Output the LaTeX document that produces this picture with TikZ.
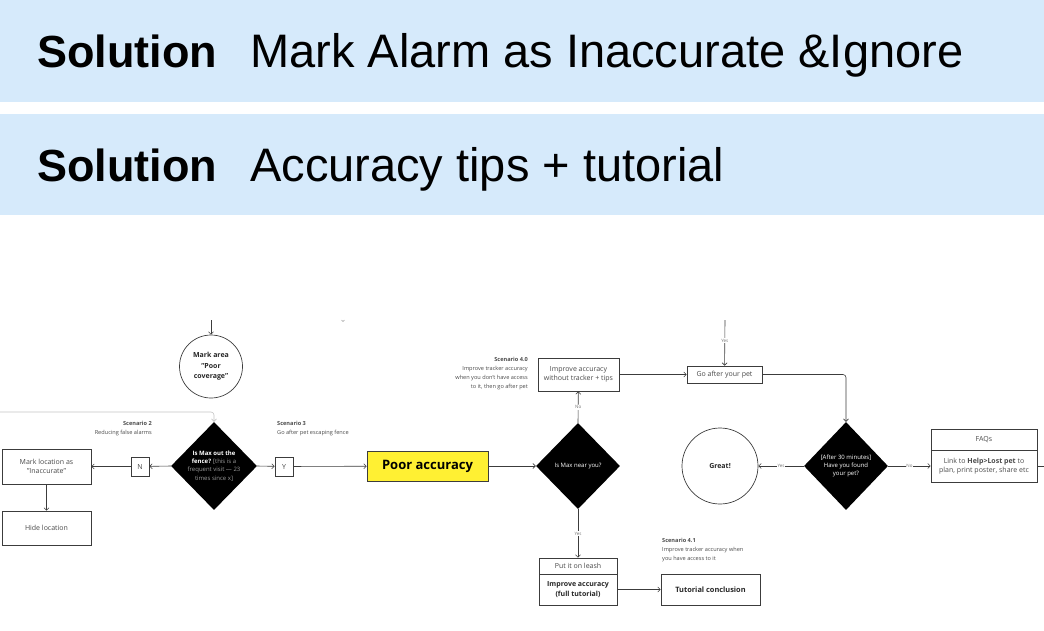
\documentclass[tikz,border=0pt]{standalone}
\usepackage{fontspec}
\setmainfont{Open Sans}
\newfontfamily\bannerfont{Liberation Sans}
\usetikzlibrary{arrows.meta,positioning,shapes.geometric}
\definecolor{bannerBlue}{HTML}{D6EAFB}
\definecolor{edgeGrey}{HTML}{3C3C3C}
\definecolor{hintGrey}{HTML}{C4C4C4}
\definecolor{noteGrey}{HTML}{9C9C9C}
\definecolor{bodyGrey}{HTML}{4A4A4A}
\definecolor{markerYellow}{HTML}{FFF033}

\tikzset{
  banner/.style={anchor=base west, inner sep=0pt, text=black},
  box/.style={draw=edgeGrey, fill=white, line width=0.7pt, inner sep=0pt, align=center,
    font=\fontsize{7}{9.5}\selectfont, text=bodyGrey},
  decision/.style={diamond, fill=black, draw=none, inner sep=0pt},
  dtext/.style={text=white, align=center, inner sep=0pt, font=\fontsize{6}{8.2}\selectfont},
  roundbox/.style={circle, draw=edgeGrey, line width=0.7pt, inner sep=0pt, align=center,
    font=\bfseries\fontsize{7}{10.5}\selectfont, text=black!85},
  scenario/.style={inner sep=0pt, font=\fontsize{5.6}{9}\selectfont, text=bodyGrey},
  flow/.style={draw=edgeGrey, line width=0.6pt, ->},
  lab/.style={fill=white, inner sep=0.8pt, font=\fontsize{4.5}{5}\selectfont, text=black!55}
}

\begin{document}
\begin{tikzpicture}[x=1pt,y=-1pt,>={Straight Barb[length=2.5pt,width=5pt]}]
  \useasboundingbox (0,0) rectangle (1044,630);

  % banners
  \fill[bannerBlue] (0,0) rectangle (1044,102);
  \fill[bannerBlue] (0,114) rectangle (1044,215);
  \node[banner,font=\bannerfont\bfseries\fontsize{45}{50}\selectfont] (solA) at (37,67) {Solution};
  \node[banner,font=\bannerfont\fontsize{47}{50}\selectfont] (titleA) at (250,67) {Mark Alarm as Inaccurate \&Ignore};
  \node[banner,font=\bannerfont\bfseries\fontsize{45}{50}\selectfont] (solB) at (37,181) {Solution};
  \node[banner,font=\bannerfont\fontsize{47}{50}\selectfont] (titleB) at (250,181) {Accuracy tips + tutorial};

  % left branch
  \node[roundbox,minimum size=63] (poorCov) at (211,366.5) {Mark area\\"Poor\\coverage"};
  \node[decision,minimum width=86,minimum height=88,
    label={[dtext]center:{\textbf{Is Max out the}\\\textbf{fence?} \textcolor{noteGrey}{[this is a}\\\textcolor{noteGrey}{frequent visit — 23}\\\textcolor{noteGrey}{times since x]}}}] (fence) at (214,466) {};
  \node[box,minimum width=18,minimum height=19] (nBox) at (140,466.5) {N};
  \node[box,minimum width=18,minimum height=19] (yBox) at (284,466.5) {Y};
  \node[box,minimum width=89,minimum height=35] (markLoc) at (46.5,466.5) {Mark location as\\"Inaccurate"};
  \node[box,minimum width=89,minimum height=34] (hideLoc) at (46.5,528) {Hide location};
  \node[scenario,anchor=north east,align=right] (scenTwo) at (152,421) {\textbf{Scenario 2}\\Reducing false alarms};
  \node[scenario,anchor=north west,align=left] (scenThree) at (277,421) {\textbf{Scenario 3}\\Go after pet escaping fence};

  % middle branch
  \node[box,fill=markerYellow,minimum width=121,minimum height=30,
    font=\bfseries\fontsize{13}{15}\selectfont,text=black] (poorAcc) at (427.5,466) {Poor accuracy};
  \node[decision,minimum width=84,minimum height=86,
    label={[dtext]center:{Is Max near you?}}] (near) at (578,466) {};
  \node[box,minimum width=81,minimum height=33] (tips) at (578.5,374.5) {Improve accuracy\\without tracker + tips};
  \node[scenario,anchor=north east,align=right] (scenFour) at (528,357.5) {\textbf{Scenario 4.0}\\Improve tracker accuracy\\when you don't have access\\to it, then go after pet};
  \node[box,minimum width=78,minimum height=16] (leashTop) at (578,566) {Put it on leash};
  \node[box,minimum width=78,minimum height=31,font=\bfseries\fontsize{7}{9.5}\selectfont,text=black!85] (leashBody) at (578,589.5) {Improve accuracy\\(full tutorial)};
  \node[box,minimum width=99,minimum height=31,font=\bfseries\fontsize{7.4}{9.5}\selectfont,text=black!85] (tutorial) at (710.5,589.5) {Tutorial conclusion};
  \node[scenario,anchor=north west,align=left] (scenFourOne) at (662,538.5) {\textbf{Scenario 4.1}\\Improve tracker accuracy when\\you have access to it};

  % right branch
  \node[box,minimum width=75,minimum height=17] (goPet) at (724.5,374.5) {Go after your pet};
  \node[decision,minimum width=84,minimum height=88,
    label={[dtext]center:{[After 30 minutes]\\Have you found\\your pet?}}] (found) at (846,466) {};
  \node[roundbox,minimum size=76] (great) at (720,466) {Great!};
  \node[box,minimum width=106,minimum height=21] (faqHead) at (984,439.5) {FAQs};
  \node[box,minimum width=106,minimum height=32] (faqBody) at (984,466) {Link to \textbf{Help>Lost pet} to\\plan, print poster, share etc};

  % loose ends
  \coordinate (covIn) at (211,320);
  \coordinate (loopIn) at (0,412);
  \coordinate (goIn) at (725,320);
  \coordinate (faqOut) at (1044,466);
  \draw[edgeGrey!50,line width=0.4pt] (341.5,320) -- (343,321.5) -- (344.5,320);

  % connectors
  \draw[flow] (covIn) -- (poorCov);
  \draw[hintGrey,line width=0.6pt,->,rounded corners=3pt] (loopIn) -| (fence.north);
  \draw[flow] (fence.west) -- (nBox);
  \draw[flow] (nBox) -- (markLoc);
  \draw[flow] (markLoc) -- (hideLoc);
  \draw[flow] (fence.east) -- (yBox);
  \draw[flow] (yBox) -- (poorAcc);
  \draw[flow] (poorAcc) -- (near.west);
  \draw[flow] (near.north) -- node[lab] {No} (tips);
  \draw[flow] (near.south) -- node[lab] {Yes} (leashTop);
  \draw[flow] (leashBody) -- (tutorial);
  \draw[flow] (tips) -- (goPet);
  \draw[flow] (goIn) -- node[lab,pos=0.45] {Yes} (goPet);
  \draw[flow,rounded corners=3pt] (goPet.east) -| (found.north);
  \draw[flow] (found.west) -- node[lab] {Yes} (great);
  \draw[flow] (found.east) -- node[lab] {No} (faqBody);
  \draw[edgeGrey,line width=0.6pt] (faqBody) -- (faqOut);
\end{tikzpicture}
\end{document}
